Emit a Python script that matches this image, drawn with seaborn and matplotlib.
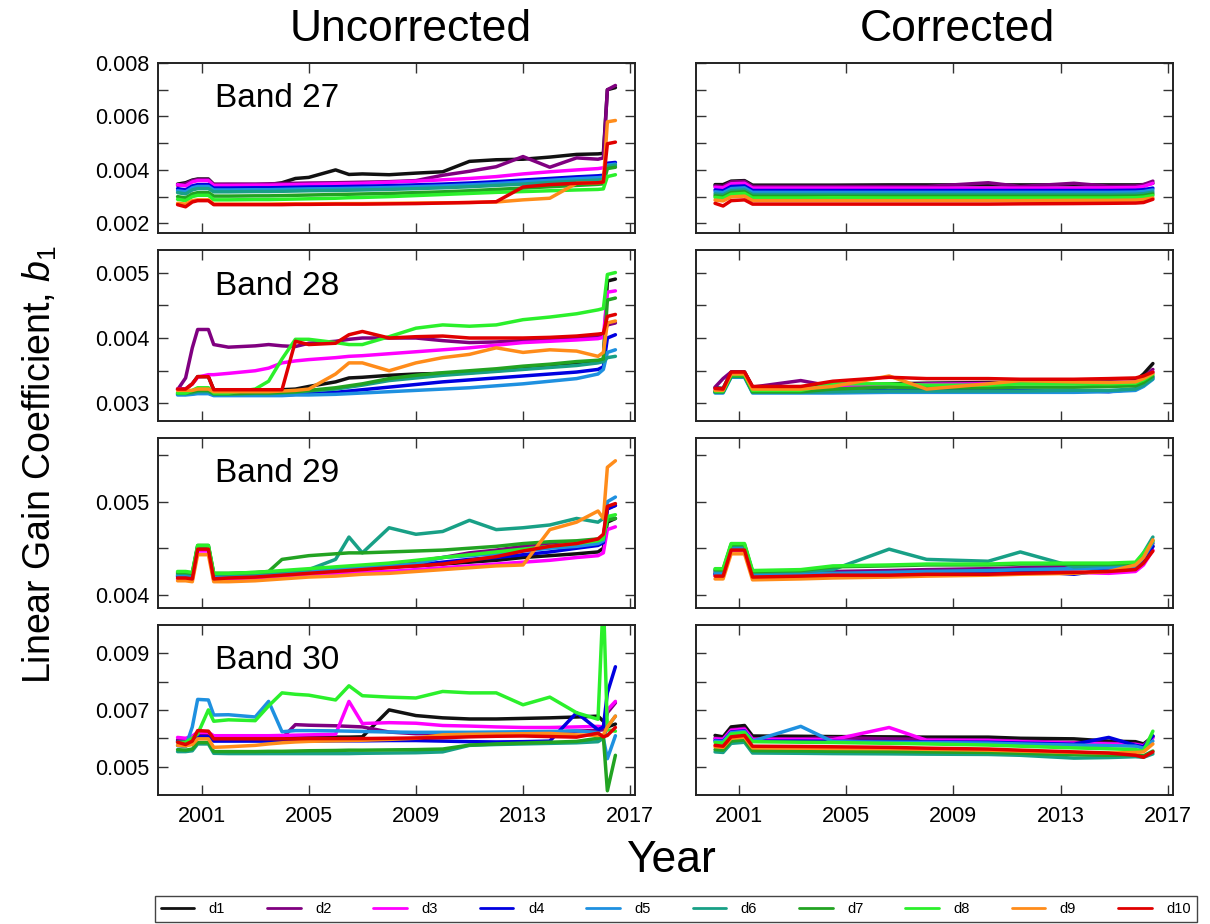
import matplotlib
matplotlib.use("Agg")
import matplotlib.pyplot as plt
import numpy as np
import pandas as pd
import seaborn as sns

# detectors and their line colours
detectors = ["d1", "d2", "d3", "d4", "d5", "d6", "d7", "d8", "d9", "d10"]
det_colors = ["#111111", "#800080", "#ff00ff", "#0000e0", "#1e90e0",
              "#18a086", "#22a322", "#2bf02b", "#ff8c1a", "#e00000"]

# time grid of the uncorrected series and of the corrected series (decimal year)
years_raw = [2000.1, 2000.4, 2000.65, 2000.85, 2001.25, 2001.45, 2002, 2003, 2003.5,
             2004, 2004.5, 2005, 2006, 2006.5, 2007, 2008, 2009, 2010, 2011, 2012,
             2013, 2014, 2015, 2015.8, 2016.0, 2016.15, 2016.45]
years_corr = [2000.1, 2000.4, 2000.7, 2001.2, 2001.5, 2003.3, 2004.5, 2006.6,
              2008, 2010.3, 2011.5, 2013.5, 2014.8, 2015.8, 2016.1, 2016.45]

# gain coefficients b1, in units of 1e-5, one row per detector d1..d10
band27_raw = [
    [347, 352, 362, 366, 366, 346, 345, 345, 345, 352, 368, 372, 400, 383, 385, 382, 388, 393, 432, 438, 440, 448, 458, 460, 462, 700, 708],
    [342, 348, 360, 364, 364, 346, 347, 347, 348, 349, 350, 351, 352, 353, 354, 356, 360, 380, 395, 412, 450, 410, 445, 440, 445, 700, 716],
    [345, 340, 355, 360, 360, 342, 342, 343, 343, 344, 345, 346, 348, 349, 350, 354, 358, 363, 368, 375, 385, 393, 400, 405, 408, 410, 412],
    [330, 325, 340, 345, 345, 332, 332, 333, 333, 334, 335, 336, 337, 338, 339, 341, 344, 347, 351, 356, 362, 368, 374, 378, 380, 425, 428],
    [322, 318, 333, 338, 338, 325, 325, 326, 326, 327, 328, 329, 330, 331, 332, 334, 337, 340, 344, 349, 355, 361, 367, 371, 373, 418, 422],
    [315, 310, 325, 330, 330, 318, 318, 319, 319, 320, 321, 322, 323, 324, 325, 327, 330, 333, 337, 342, 347, 353, 358, 362, 364, 412, 418],
    [300, 295, 310, 315, 315, 302, 302, 303, 303, 304, 305, 306, 308, 309, 310, 312, 315, 318, 322, 327, 332, 337, 342, 346, 348, 405, 410],
    [290, 285, 300, 305, 305, 288, 288, 289, 289, 290, 291, 292, 294, 296, 297, 300, 304, 308, 312, 316, 319, 322, 325, 327, 329, 375, 382],
    [275, 272, 285, 288, 288, 272, 272, 272, 272, 273, 273, 273, 274, 274, 274, 275, 276, 277, 278, 280, 288, 294, 350, 352, 355, 580, 585],
    [270, 262, 280, 285, 285, 270, 270, 270, 270, 270, 271, 271, 272, 272, 272, 273, 274, 276, 278, 281, 336, 345, 350, 352, 355, 498, 504],
]
band28_raw = [
    [322, 322, 330, 341, 341, 321, 320, 320, 320, 321, 322, 326, 333, 339, 340, 343, 345, 346, 347, 350, 353, 357, 360, 363, 365, 487, 490],
    [321, 339, 385, 413, 413, 390, 386, 388, 390, 388, 387, 392, 395, 398, 400, 400, 400, 396, 393, 394, 396, 398, 400, 403, 405, 420, 423],
    [322, 322, 330, 340, 344, 344, 346, 350, 354, 362, 365, 367, 370, 372, 373, 376, 379, 382, 385, 389, 393, 395, 397, 399, 401, 470, 472],
    [314, 314, 315, 316, 316, 313, 313, 313, 313, 313, 314, 315, 317, 319, 321, 325, 329, 333, 336, 339, 342, 345, 348, 352, 356, 400, 405],
    [313, 313, 314, 315, 315, 312, 312, 312, 312, 312, 313, 313, 314, 315, 316, 318, 320, 322, 324, 327, 330, 334, 338, 345, 352, 378, 382],
    [315, 315, 316, 318, 318, 314, 314, 315, 315, 316, 317, 319, 322, 325, 328, 335, 339, 343, 346, 349, 352, 355, 358, 362, 364, 370, 372],
    [316, 316, 318, 320, 320, 315, 315, 316, 316, 317, 318, 320, 324, 327, 330, 338, 343, 347, 350, 353, 357, 360, 364, 366, 368, 458, 461],
    [316, 316, 320, 324, 324, 316, 316, 322, 334, 368, 398, 398, 393, 390, 390, 402, 415, 420, 418, 420, 428, 432, 437, 443, 445, 497, 500],
    [320, 320, 320, 322, 322, 318, 318, 318, 318, 319, 320, 322, 345, 362, 362, 350, 362, 370, 375, 385, 378, 382, 380, 372, 378, 423, 426],
    [322, 322, 330, 341, 341, 321, 321, 321, 321, 321, 395, 390, 392, 405, 410, 400, 402, 403, 400, 400, 400, 401, 403, 406, 407, 433, 436],
]
band29_raw = [
    [420, 420, 420, 450, 450, 420, 420, 421, 422, 423, 424, 425, 427, 428, 429, 430, 431, 433, 435, 437, 440, 442, 444, 446, 450, 478, 482],
    [422, 422, 421, 451, 451, 421, 421, 422, 423, 424, 425, 426, 428, 430, 431, 433, 436, 440, 445, 448, 452, 455, 457, 459, 462, 493, 496],
    [417, 417, 416, 447, 447, 416, 416, 417, 418, 419, 420, 421, 422, 423, 424, 425, 427, 429, 431, 433, 435, 437, 440, 442, 445, 470, 473],
    [420, 420, 420, 450, 450, 419, 419, 420, 421, 422, 423, 424, 426, 427, 428, 430, 432, 435, 438, 440, 443, 446, 450, 453, 456, 492, 496],
    [421, 421, 421, 451, 451, 420, 420, 421, 422, 423, 424, 425, 427, 428, 429, 431, 433, 440, 442, 444, 447, 450, 452, 455, 458, 500, 505],
    [423, 423, 422, 452, 452, 422, 422, 423, 424, 425, 426, 427, 438, 462, 445, 472, 465, 468, 480, 470, 472, 475, 482, 478, 482, 483, 482],
    [424, 424, 423, 453, 453, 423, 423, 424, 425, 438, 440, 442, 444, 445, 445, 446, 447, 448, 450, 452, 455, 457, 458, 460, 462, 480, 482],
    [425, 425, 424, 453, 453, 423, 423, 424, 425, 426, 427, 428, 430, 431, 432, 434, 437, 440, 443, 446, 449, 452, 455, 458, 460, 484, 486],
    [415, 415, 414, 443, 443, 414, 414, 415, 416, 417, 418, 419, 420, 421, 422, 423, 425, 427, 429, 431, 432, 470, 478, 490, 482, 537, 544],
    [418, 418, 417, 449, 449, 417, 418, 419, 420, 421, 422, 423, 425, 426, 427, 429, 431, 433, 437, 441, 447, 452, 455, 460, 465, 495, 498],
]
band30_raw = [
    [590, 590, 592, 615, 615, 603, 603, 603, 603, 603, 604, 604, 604, 604, 605, 700, 680, 672, 668, 668, 670, 672, 675, 678, 660, 640, 650],
    [595, 590, 598, 612, 612, 598, 598, 599, 599, 600, 648, 646, 644, 642, 640, 622, 616, 616, 617, 618, 620, 622, 625, 628, 630, 690, 725],
    [603, 600, 608, 621, 621, 609, 609, 609, 609, 610, 611, 612, 614, 730, 652, 655, 653, 645, 643, 640, 638, 638, 640, 642, 640, 700, 730],
    [588, 585, 590, 605, 605, 590, 590, 590, 590, 590, 590, 590, 591, 591, 591, 592, 592, 590, 588, 587, 588, 590, 690, 630, 640, 760, 852],
    [574, 570, 640, 737, 735, 682, 683, 675, 730, 623, 627, 627, 626, 625, 624, 622, 621, 621, 621, 622, 623, 624, 626, 620, 600, 528, 609],
    [553, 553, 556, 580, 580, 547, 546, 546, 546, 546, 546, 546, 546, 546, 547, 548, 549, 552, 575, 578, 580, 582, 584, 588, 600, 640, 678],
    [560, 558, 562, 585, 585, 553, 553, 553, 554, 554, 555, 556, 557, 558, 558, 559, 560, 562, 576, 580, 583, 586, 589, 600, 605, 415, 540],
    [586, 586, 600, 615, 700, 660, 665, 662, 714, 760, 755, 752, 735, 785, 750, 745, 742, 765, 760, 760, 718, 745, 690, 667, 1100, 630, 625],
    [575, 573, 578, 598, 598, 568, 570, 575, 580, 584, 587, 589, 591, 592, 593, 596, 600, 612, 614, 615, 616, 617, 612, 610, 612, 640, 678],
    [586, 578, 590, 627, 625, 598, 598, 598, 598, 598, 598, 599, 599, 599, 599, 600, 601, 602, 605, 607, 608, 606, 604, 618, 605, 610, 638],
]

band27_corr = [
    [345, 345, 358, 360, 343, 343, 343, 344, 344, 344, 344, 344, 344, 344, 345, 350],
    [340, 338, 355, 357, 338, 338, 338, 338, 338, 352, 338, 350, 339, 340, 345, 358],
    [335, 333, 348, 350, 332, 332, 332, 332, 332, 332, 332, 332, 333, 334, 338, 350],
    [325, 322, 338, 340, 323, 323, 323, 323, 323, 323, 323, 323, 323, 324, 326, 332],
    [318, 315, 330, 333, 316, 316, 316, 316, 316, 316, 316, 316, 316, 317, 319, 325],
    [310, 307, 322, 325, 308, 308, 308, 308, 308, 308, 308, 308, 308, 309, 311, 317],
    [303, 300, 315, 318, 301, 301, 301, 301, 301, 301, 301, 301, 301, 302, 304, 310],
    [297, 294, 309, 312, 295, 295, 296, 295, 295, 295, 295, 295, 295, 296, 298, 304],
    [287, 284, 299, 302, 285, 285, 285, 285, 285, 285, 285, 286, 286, 287, 289, 295],
    [275, 265, 285, 288, 272, 272, 272, 272, 272, 272, 273, 274, 275, 276, 278, 290],
]
band28_corr = [
    [324, 323, 348, 348, 325, 325, 327, 330, 331, 332, 332, 333, 333, 335, 345, 361],
    [325, 338, 348, 348, 325, 335, 326, 328, 330, 331, 331, 332, 332, 334, 340, 352],
    [322, 321, 346, 346, 323, 323, 325, 328, 329, 330, 331, 332, 332, 333, 338, 348],
    [318, 318, 343, 343, 318, 318, 318, 320, 320, 320, 320, 320, 318, 322, 328, 340],
    [316, 316, 340, 340, 316, 316, 316, 317, 317, 317, 317, 317, 318, 320, 326, 337],
    [317, 317, 341, 341, 317, 317, 318, 319, 319, 319, 319, 320, 320, 322, 328, 338],
    [318, 318, 342, 342, 318, 318, 322, 325, 324, 324, 325, 325, 326, 327, 332, 342],
    [319, 319, 344, 344, 320, 320, 330, 330, 328, 328, 330, 330, 330, 331, 336, 345],
    [320, 320, 345, 345, 322, 322, 326, 342, 322, 330, 335, 333, 332, 333, 338, 346],
    [323, 322, 348, 348, 326, 326, 334, 340, 338, 338, 337, 337, 338, 339, 342, 348],
]
band29_corr = [
    [423, 423, 450, 450, 421, 422, 423, 424, 425, 426, 427, 428, 429, 430, 438, 452],
    [425, 425, 453, 453, 423, 424, 425, 426, 427, 428, 429, 430, 431, 432, 440, 455],
    [421, 421, 448, 448, 419, 420, 421, 422, 423, 424, 425, 424, 423, 425, 432, 448],
    [422, 422, 450, 450, 420, 421, 422, 423, 424, 425, 426, 422, 427, 428, 436, 452],
    [423, 423, 451, 451, 421, 422, 423, 424, 425, 426, 427, 428, 429, 430, 440, 456],
    [426, 426, 453, 453, 424, 425, 427, 449, 438, 436, 446, 430, 432, 433, 445, 462],
    [427, 427, 454, 454, 425, 426, 430, 431, 432, 432, 433, 433, 433, 434, 443, 458],
    [428, 428, 455, 455, 426, 427, 431, 432, 433, 433, 434, 434, 434, 435, 445, 458],
    [417, 417, 444, 444, 416, 417, 418, 419, 420, 421, 422, 423, 425, 432, 440, 459],
    [420, 420, 448, 448, 419, 420, 421, 421, 422, 422, 423, 424, 425, 427, 434, 447],
]
band30_corr = [
    [610, 605, 640, 645, 608, 607, 606, 605, 604, 604, 600, 598, 590, 588, 580, 605],
    [600, 598, 630, 635, 598, 598, 602, 598, 596, 594, 590, 585, 582, 580, 575, 608],
    [598, 596, 628, 632, 596, 596, 595, 638, 593, 592, 588, 583, 580, 578, 573, 600],
    [592, 590, 622, 626, 590, 590, 589, 588, 587, 586, 583, 579, 603, 575, 570, 608],
    [590, 588, 620, 624, 590, 642, 588, 586, 585, 583, 580, 576, 574, 572, 565, 590],
    [552, 550, 582, 586, 548, 547, 546, 545, 544, 543, 540, 530, 532, 535, 533, 545],
    [560, 558, 590, 594, 556, 555, 554, 553, 552, 550, 547, 542, 540, 542, 538, 555],
    [585, 583, 615, 620, 588, 586, 585, 582, 580, 576, 572, 566, 563, 560, 555, 625],
    [570, 568, 600, 604, 566, 565, 564, 563, 561, 558, 555, 550, 548, 550, 552, 580],
    [575, 572, 605, 610, 572, 571, 570, 568, 565, 562, 558, 552, 548, 540, 533, 552],
]

bands = ["27", "28", "29", "30"]
raw_sets = [band27_raw, band28_raw, band29_raw, band30_raw]
corr_sets = [band27_corr, band28_corr, band29_corr, band30_corr]

# axis settings per band row: limits, tick positions, labelled ticks
row_ylim = [(0.00163, 0.008), (0.00274, 0.00534), (0.00386, 0.00569), (0.004, 0.010)]
row_ticks = [[0.002, 0.003, 0.004, 0.005, 0.006, 0.007, 0.008],
             [0.003, 0.0035, 0.004, 0.0045, 0.005],
             [0.004, 0.0045, 0.005, 0.0055],
             [0.005, 0.006, 0.007, 0.008, 0.009]]
row_labelled = [[0.002, 0.004, 0.006, 0.008], [0.003, 0.004, 0.005],
                [0.004, 0.005], [0.005, 0.007, 0.009]]
year_ticks = [2001, 2005, 2009, 2013, 2017]


def to_frame(t, rows):
    recs = []
    for det, vals in zip(detectors, rows):
        for x, v in zip(t, vals):
            recs.append((det, x, v * 1e-5))
    return pd.DataFrame(recs, columns=["detector", "year", "gain"])


sns.set_style("ticks")
plt.rcParams["font.family"] = ["Liberation Sans", "DejaVu Sans"]
plt.rcParams["text.color"] = "black"
plt.rcParams["xtick.labelcolor"] = "black"
plt.rcParams["ytick.labelcolor"] = "black"
plt.rcParams["mathtext.fontset"] = "custom"
plt.rcParams["mathtext.rm"] = "Liberation Sans"
plt.rcParams["mathtext.it"] = "Liberation Sans:italic"

fig, axes = plt.subplots(4, 2, figsize=(12.1, 9.24), dpi=100, sharex=True, sharey="row")
fig.subplots_adjust(left=0.1306, right=0.9694, top=0.9318, bottom=0.1396,
                    wspace=0.1257, hspace=0.10)

for r, band in enumerate(bands):
    for c, rows in enumerate([raw_sets[r], corr_sets[r]]):
        ax = axes[r, c]
        t = years_raw if c == 0 else years_corr
        sns.lineplot(data=to_frame(t, rows), x="year", y="gain", hue="detector",
                     hue_order=detectors, palette=det_colors, linewidth=2.5,
                     estimator=None, legend=False, ax=ax)
        ax.set_xlabel("")
        ax.set_ylabel("")
        ax.set_xlim(1999.37, 2017.2)
        ax.set_ylim(*row_ylim[r])
        ax.set_xticks(year_ticks)
        ax.set_xticklabels([str(y) for y in year_ticks])
        ax.set_yticks(row_ticks[r])
        ax.set_yticklabels([f"{v:.3f}" if any(abs(v - l) < 1e-9 for l in row_labelled[r]) else ""
                            for v in row_ticks[r]])
        ax.tick_params(direction="in", length=7, width=1, top=True, right=True,
                       labelsize=15.5, color="#333333", labelcolor="black")
        ax.tick_params(axis="x", pad=8)
        ax.tick_params(axis="y", pad=6)
        for s in ax.spines.values():
            s.set_color("#222222")
            s.set_linewidth(1.4)
        if c == 0:
            ax.text(0.12, 0.79, f"Band {band}", transform=ax.transAxes,
                    fontsize=24, va="center", ha="left", color="black")

fig.text(0.3397, 0.968, "Uncorrected", ha="center", va="center", fontsize=32)
fig.text(0.791, 0.968, "Corrected", ha="center", va="center", fontsize=32)
fig.text(0.5545, 0.069, "Year", ha="center", va="center", fontsize=32)
fig.text(0.033, 0.497, r"Linear Gain Coefficient, $b_1$", rotation=90,
         ha="center", va="center", fontsize=27)

handles = axes[0, 0].get_lines()[:10]
leg = fig.legend(handles, detectors, ncol=10, mode="expand", loc="lower left",
                 bbox_to_anchor=(0.128, 0.002, 0.861, 0.029), fontsize=10.5,
                 frameon=True, fancybox=False, edgecolor="#444444", framealpha=1,
                 handlelength=2.3, handletextpad=1.0, borderaxespad=0)
leg.get_frame().set_linewidth(1.0)
for line in leg.get_lines():
    line.set_linewidth(2.0)

fig.savefig("out.png", dpi=100, facecolor="white")
